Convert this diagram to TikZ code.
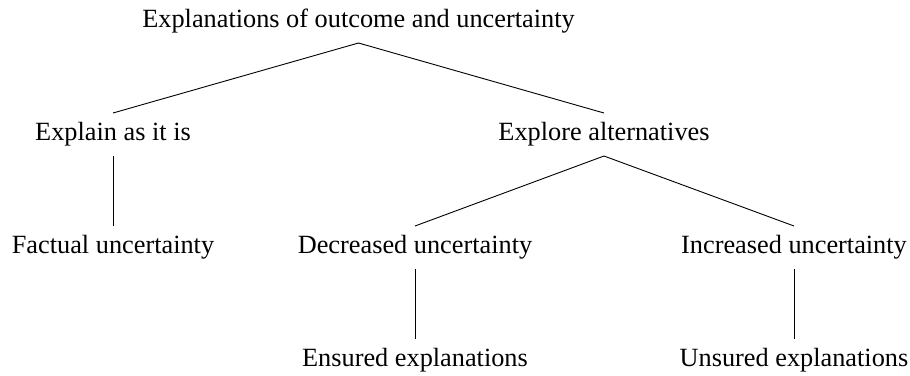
\documentclass[tikz,border=0pt]{standalone}
\usepackage{fontspec}
\setmainfont{Liberation Serif}
\begin{document}
\begin{tikzpicture}[x=1pt,y=-1pt,
  lbl/.style={anchor=base,inner sep=0pt,outer xsep=0pt,outer ysep=9.5pt,
    text height=18pt,text depth=6pt,font=\fontsize{26.3}{30}\selectfont},
  conn/.style={line width=0.9pt}]
\useasboundingbox (0,0) rectangle (910,375);
\node[lbl] (root) at (358.5,27.5) {Explanations of outcome and uncertainty};
\node[lbl] (explain) at (113,140.5) {Explain as it is};
\node[lbl] (explore) at (604,140.5) {Explore alternatives};
\node[lbl] (factual) at (113,253.5) {Factual uncertainty};
\node[lbl] (decr) at (415,253.5) {Decreased uncertainty};
\node[lbl] (incr) at (794,253.5) {Increased uncertainty};
\node[lbl] (ensured) at (415,366.5) {Ensured explanations};
\node[lbl] (unsured) at (794,366.5) {Unsured explanations};
\draw[conn] (explain.north) -- (root.south) -- (explore.north);
\draw[conn] (explain.south) -- (factual.north);
\draw[conn] (decr.north) -- (explore.south) -- (incr.north);
\draw[conn] (decr.south) -- (ensured.north);
\draw[conn] (incr.south) -- (unsured.north);
\end{tikzpicture}
\end{document}
